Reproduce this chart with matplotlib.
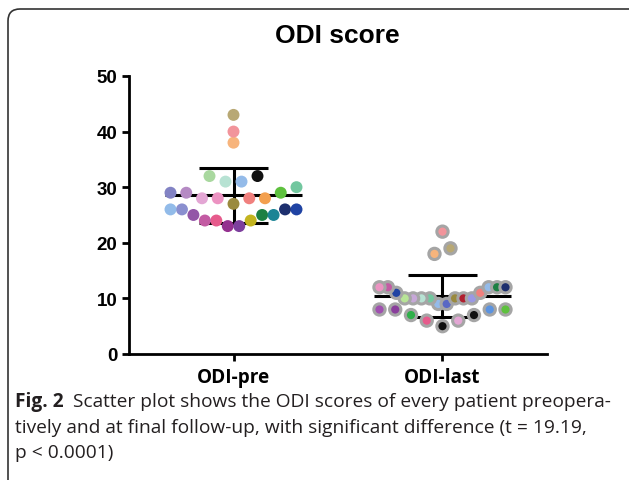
import numpy as np
import matplotlib
matplotlib.use("Agg")
import matplotlib.pyplot as plt
from matplotlib.patches import FancyBboxPatch

# ODI scores per patient, with the colour of each patient
groups = ["ODI-pre", "ODI-last"]

pre_scores = [23, 23, 24, 24, 24, 25, 25, 25, 26, 26, 26, 26,
              27, 28, 28, 28, 28, 29, 29, 29, 30,
              31, 31, 32, 32, 38, 40, 43]
pre_colors = ["#94308f", "#7d3f9d", "#e65b8c", "#c3b41f", "#c35ba3", "#1d8043",
              "#9356a7", "#1b8495", "#8a8fcf", "#1d2f6e", "#92bbe9", "#1f43a3",
              "#9a8a3e", "#ec93c2", "#f0807e", "#e3a6d4", "#f3a04f", "#b58ac4",
              "#5ec13e", "#8283c4", "#72c79f",
              "#b7e2d3", "#94bbe9", "#a9d89f", "#111111", "#f7b47c", "#f2949b", "#b8a874"]

last_scores = [5, 6, 6, 7, 7, 8, 8, 8, 8,
               9, 9, 10, 10, 10, 10, 10, 10, 10, 11, 11, 12, 12, 12, 12, 12,
               18, 19, 22]
last_colors = ["#111111", "#e65b8c", "#e3a6d4", "#2fb04a", "#111111", "#8a3f9c",
               "#5b93e0", "#a050b0", "#5ec13e",
               "#94bbe9", "#5a68c4", "#72c79f", "#9a8a3e", "#b7e2d3", "#b01f2f",
               "#c7a8d8", "#9a98e4", "#b8e497", "#f0807e", "#1f43a3", "#94bbe9",
               "#c35ba3", "#1d8043", "#ec93c2", "#1d2f6e",
               "#f7b47c", "#b8a874", "#f2949b"]

yticks = [0, 10, 20, 30, 40, 50]


def row_offsets(values, bin_width=4, max_step=16, max_span=126):
    """Scatter layout in rows (in pixels): values are binned, each bin is sorted and
    spread from the centre outwards, alternating left / right."""
    values = np.asarray(values, dtype=float)
    offs = np.zeros(len(values))
    bins = ((values - values.min()) // bin_width).astype(int)
    for b in np.unique(bins):
        idx = np.where(bins == b)[0]
        idx = idx[np.argsort(values[idx], kind="stable")]
        n = len(idx)
        if n == 1:
            continue
        step = min(max_step, max_span / (n - 1))
        for k, i in enumerate(idx):
            if n % 2:
                if k == 0:
                    continue
                ring = (k + 1) // 2
                side = -1 if k % 2 else 1
                offs[i] = side * ring * step
            else:
                ring = k // 2
                side = -1 if k % 2 == 0 else 1
                offs[i] = side * (ring + 0.5) * step
    return offs


fig = plt.figure(figsize=(6.29, 4.81), dpi=100)
ax = fig.add_axes([0.2051, 0.262, 0.6645, 0.578])
ax.set_xlim(-0.5, 1.5)
ax.set_ylim(0, 50)

# pixels per x data unit, from the axes transform
ppx = ax.transData.transform((1, 0))[0] - ax.transData.transform((0, 0))[0]

for gi, (vals, cols) in enumerate([(pre_scores, pre_colors), (last_scores, last_colors)]):
    vals = np.array(vals, dtype=float)
    mean, sd = vals.mean(), vals.std(ddof=1)
    # mean line and SD bar
    ax.hlines(mean, gi - 0.33, gi + 0.33, color="black", lw=2.2, zorder=2)
    ax.vlines(gi, mean - sd, mean + sd, color="black", lw=2.2, zorder=2)
    ax.hlines([mean - sd, mean + sd], gi - 0.165, gi + 0.165, color="black", lw=2.2, zorder=2)

    x = gi + row_offsets(vals) / ppx
    if gi == 0:
        ax.scatter(x, vals, s=74, c=cols, linewidths=0, zorder=3)
    else:
        ax.scatter(x, vals, s=66, c=cols, edgecolors="#a5a5a5", linewidths=2.2, zorder=3)

ax.set_xticks([0, 1])
ax.set_xticklabels(groups, fontfamily="Open Sans", fontweight="bold", fontsize=13.6)
ax.set_yticks(yticks)
ax.set_yticklabels([str(t) for t in yticks], fontfamily="Liberation Sans",
                   fontweight="bold", fontsize=13.5)
for side in ["top", "right"]:
    ax.spines[side].set_visible(False)
for side in ["left", "bottom"]:
    ax.spines[side].set_linewidth(2.0)
ax.tick_params(axis="both", width=2.0, length=5, pad=3.5, colors="black")
ax.tick_params(axis="x", pad=4.5)

fig.text(0.537, 0.925, "ODI score", ha="center", va="center", fontfamily="Liberation Sans",
         fontweight="bold", fontsize=19)

# rounded caption frame (partly cut by the image edge)
frame = FancyBboxPatch((8, -40), 640, 511, boxstyle="round,pad=0,rounding_size=12",
                       transform=None, fill=False, edgecolor="#333333", lw=1.2)
fig.add_artist(frame)

# caption
cap_size = 13.8
renderer = fig.canvas.get_renderer()
t_bold = fig.text(15 / 629, 1 - 407 / 481, "Fig. 2", fontfamily="Open Sans",
                  fontweight="bold", fontsize=cap_size, va="baseline", color="#231f20")
bb = t_bold.get_window_extent(renderer)
fig.text((bb.x1 + 9) / 629, 1 - 407 / 481,
         "Scatter plot shows the ODI scores of every patient preopera-",
         fontfamily="Open Sans", fontsize=cap_size, va="baseline", color="#231f20")
fig.text(15 / 629, 1 - 433 / 481,
         "tively and at final follow-up, with significant difference (t = 19.19,",
         fontfamily="Open Sans", fontsize=cap_size, va="baseline", color="#231f20")
fig.text(15 / 629, 1 - 458 / 481, "p < 0.0001)",
         fontfamily="Open Sans", fontsize=cap_size, va="baseline", color="#231f20")

fig.savefig("out.png", dpi=100)
